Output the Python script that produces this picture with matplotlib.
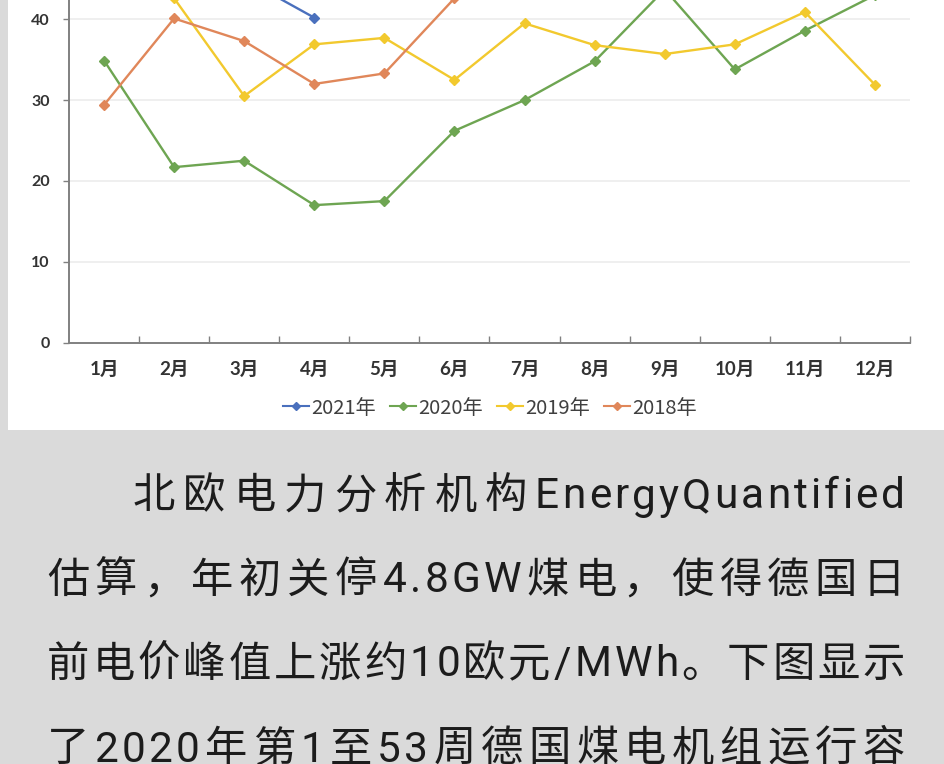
"""
plot.py — 德国煤电月度数据（截图复刻）
"""

import numpy as np
import matplotlib
matplotlib.use("Agg")
import matplotlib.pyplot as plt
from matplotlib.patches import Rectangle
from matplotlib.ticker import FixedLocator, NullFormatter

W, H, DPI = 944, 764, 100

# ── 数据 ──────────────────────────────────────────────────────────────────────
months = ["1月", "2月", "3月", "4月", "5月", "6月",
          "7月", "8月", "9月", "10月", "11月", "12月"]
y2021 = [50.0, 47.0, 45.0, 40.2, np.nan, np.nan,
         np.nan, np.nan, np.nan, np.nan, np.nan, np.nan]
y2020 = [34.9, 21.7, 22.5, 17.0, 17.5, 26.2, 30.0, 34.8, 43.7, 33.8, 38.6, 43.0]
y2019 = [47.0, 42.6, 30.5, 36.9, 37.7, 32.5, 39.5, 36.8, 35.7, 36.9, 40.9, 31.9]
y2018 = [29.4, 40.1, 37.3, 32.0, 33.3, 42.6, 47.0, 50.0, 52.0, 48.0, 50.0, 55.0]
series_names = ["2021年", "2020年", "2019年", "2018年"]
series_colors = ["#4a70bd", "#6ea552", "#f2c92e", "#e0875a"]

yticks = [0, 10, 20, 30, 40]

paragraph = [
    "北欧电力分析机构EnergyQuantified",
    "估算，年初关停4.8GW煤电，使得德国日",
    "前电价峰值上涨约10欧元/MWh。下图显示",
    "了2020年第1至53周德国煤电机组运行容",
]

# ── 画布 ──────────────────────────────────────────────────────────────────────
fig = plt.figure(figsize=(W / DPI, H / DPI), dpi=DPI, facecolor="#dadada")
fig.patches.append(Rectangle((8 / W, 1 - 430 / H), 1 - 8 / W, 430 / H,
                             transform=fig.transFigure, facecolor="white",
                             edgecolor="none", zorder=-5))

ax = fig.add_axes([69 / W, 1 - 342.5 / H, (910 - 69) / W, 342.5 / H])
ax.set_facecolor("white")
x = np.arange(1, 13)
lines = []
for vals, name, col in zip([y2021, y2020, y2019, y2018], series_names, series_colors):
    ln, = ax.plot(x, vals, color=col, lw=1.7, marker="D", ms=5,
                  label=name, zorder=3)
    lines.append(ln)

ax.set_xlim(0.5, 12.5)
ax.set_ylim(0, 342.5 / 8.08)

for s in ["top", "right"]:
    ax.spines[s].set_visible(False)
for s in ["left", "bottom"]:
    ax.spines[s].set_color("#808080")
    ax.spines[s].set_linewidth(1.4)
ax.spines["bottom"].set_zorder(4)

ax.set_yticks(yticks)
ax.set_yticklabels([str(v) for v in yticks], fontfamily="Lato",
                   fontweight="bold", fontsize=11.5, color="#333333")
ax.tick_params(axis="y", length=4, width=1, color="#808080", pad=10)
ax.yaxis.grid(True, color="#ececec", lw=1.2)
ax.set_axisbelow(True)

ax.set_xticks(x)
ax.set_xticklabels(months, fontfamily=["Lato", "Noto Sans CJK SC"],
                   fontweight="bold", fontsize=13.5, color="#333333")
ax.tick_params(axis="x", which="major", length=0, pad=13)
ax.xaxis.set_minor_locator(FixedLocator(np.arange(1.5, 13, 1)))
ax.xaxis.set_minor_formatter(NullFormatter())
ax.tick_params(axis="x", which="minor", direction="in", length=5,
               width=1, color="#808080")

leg = fig.legend(handles=lines, loc="center", ncol=4,
                 bbox_to_anchor=(490 / W, 1 - 408 / H), frameon=False,
                 prop={"family": "Noto Sans CJK SC", "size": 14.5},
                 handlelength=1.3, handletextpad=0.1, columnspacing=0.7,
                 borderaxespad=0)
for t in leg.get_texts():
    t.set_color("#404040")
for h in leg.legend_handles:
    h.set_markersize(4)
    h.set_linewidth(1.5)

# ── 正文段落（两端对齐） ──────────────────────────────────────────────────────
renderer = fig.canvas.get_renderer()
text_kw = dict(fontsize=30.5, color="#1c1c1c", va="center", ha="left",
               family=["Roboto", "Noto Sans CJK SC"])
em_px = 30.5 * DPI / 72
latin_gap = 3.2


def is_cjk(ch):
    return ord(ch) > 0x2E80


def justify_line(s, x0, x1, yc):
    texts = [fig.text(0, 0, ch, **text_kw) for ch in s]
    widths = [em_px if is_cjk(ch) else t.get_window_extent(renderer).width
              for ch, t in zip(s, texts)]
    # 西文字符之间只留小间距，其余间隙均分剩余宽度
    pairs = list(zip(s[:-1], s[1:]))
    n_latin = sum(1 for a, b in pairs if not is_cjk(a) and not is_cjk(b))
    n_other = len(pairs) - n_latin
    gap = (x1 - x0 - sum(widths) - n_latin * latin_gap) / n_other
    pos = x0
    for i, (t, w) in enumerate(zip(texts, widths)):
        t.set_position((pos / W, 1 - yc / H))
        if i < len(pairs):
            a, b = pairs[i]
            pos += w + (latin_gap if not is_cjk(a) and not is_cjk(b) else gap)


line_y = [497, 581, 665, 750]
line_x0 = [133, 47, 47, 47]
for s, yc, x0 in zip(paragraph, line_y, line_x0):
    justify_line(s, x0, 905, yc)

fig.savefig("out.png", dpi=DPI, facecolor=fig.get_facecolor())
